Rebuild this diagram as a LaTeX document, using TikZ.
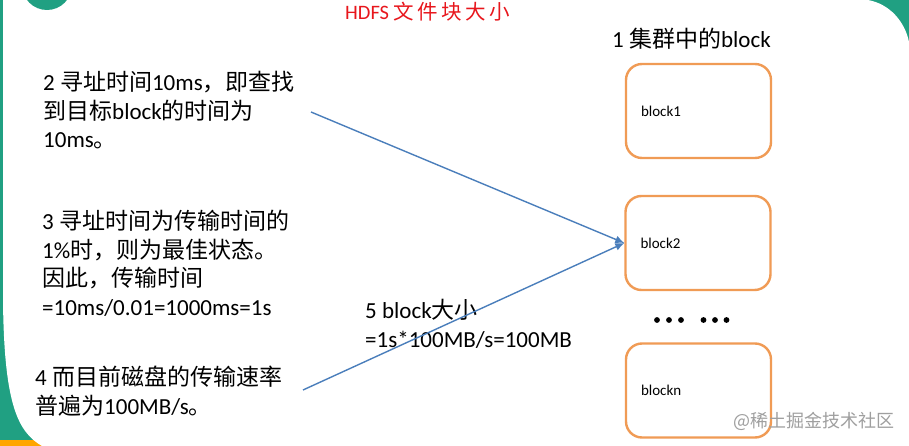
\documentclass[tikz,border=0pt]{standalone}
\usepackage{fontspec}
\setmainfont{Carlito}
\newfontfamily\zhfont{Noto Sans CJK SC}
\newfontfamily\zhtitle[LetterSpace=17]{Noto Sans CJK SC}
\newcommand{\zh}[1]{{\zhfont #1}}
\usetikzlibrary{arrows.meta,positioning}

\definecolor{slidegreen}{RGB}{32,160,130}
\definecolor{blockorange}{RGB}{240,155,85}
\definecolor{arrowblue}{RGB}{74,126,187}
\definecolor{titlered}{RGB}{232,22,28}

\tikzset{
  blockbox/.style={draw=blockorange, line width=2.4pt, rounded corners=16pt,
    text width=115pt, align=left, inner xsep=15pt, inner ysep=0pt,
    minimum height=94pt, font=\fontsize{15}{18}\selectfont},
  note/.style={font=\fontsize{23}{28.5}\selectfont, align=left,
    anchor=base west, inner sep=0pt},
  link/.style={->, draw=arrowblue, line width=1.4pt}
}

\begin{document}
\begin{tikzpicture}[x=1pt,y=-1pt,>={Latex[length=9pt,width=8pt]}]
  \useasboundingbox (0,0) rectangle (909,446);

  % slide background
  \fill[slidegreen] (0,0) rectangle (909,446);
  \fill[orange!70!yellow] (0,440) rectangle (60,446);
  \fill[white] (3,0) -- (868,0) .. controls (890,4) and (905,22) .. (909,42)
    -- (909,446) -- (42,446) .. controls (18,432) and (4,405) .. (3,300) -- cycle;
  \fill[slidegreen] (47,-15) circle (25pt);

  % title
  \node[anchor=base west, inner sep=0pt, text=titlered,
    font=\fontsize{20.5}{24}\selectfont] (title) at (345,19.5)
    {HDFS {\zhtitle 文件块大小}};

  % blocks in the cluster
  \node[anchor=base west, inner sep=0pt, font=\fontsize{23}{28}\selectfont]
    (cluster) at (612,48) {1 \zh{集群中的}block};
  \node[blockbox] (block1) at (698.5,111) {block1};
  \node[blockbox] (block2) at (698,243) {block2};
  \node[blockbox] (blockn) at (698.5,390.5) {blockn};
  \foreach \x in {657,669,681,703.5,715,726.5}
    \fill (\x,320) circle (2.9pt);

  % notes (base = last line)
  \node[note] (seek) at (43,148) {2 \zh{寻址时间}10ms\zh{，即查找}\\
    \zh{到目标}block\zh{的时间为}\\10ms\zh{。}};
  \node[note] (ratio) at (42,315) {3 \zh{寻址时间为传输时间的}\\
    1\%\zh{时，则为最佳状态。}\\\zh{因此，传输时间}\\=10ms/0.01=1000ms=1s};
  \node[note] (rate) at (35,414) {4 \zh{而目前磁盘的传输速率}\\
    \zh{普遍为}100MB/s\zh{。}};
  \node[note] (size) at (365,347) {5 block\zh{大小}\\=1s*100MB/s=100MB};

  \coordinate (seekend) at (311,112);
  \coordinate (rateend) at (303,390);
  \draw[link] (seekend) -- (block2.west);
  \draw[link] (rateend) -- (block2.west);

  \node[anchor=base west, inner sep=0pt, text=gray!75,
    font=\fontsize{18}{20}\selectfont\zhfont] (mark) at (733,427) {@稀土掘金技术社区};
\end{tikzpicture}
\end{document}
